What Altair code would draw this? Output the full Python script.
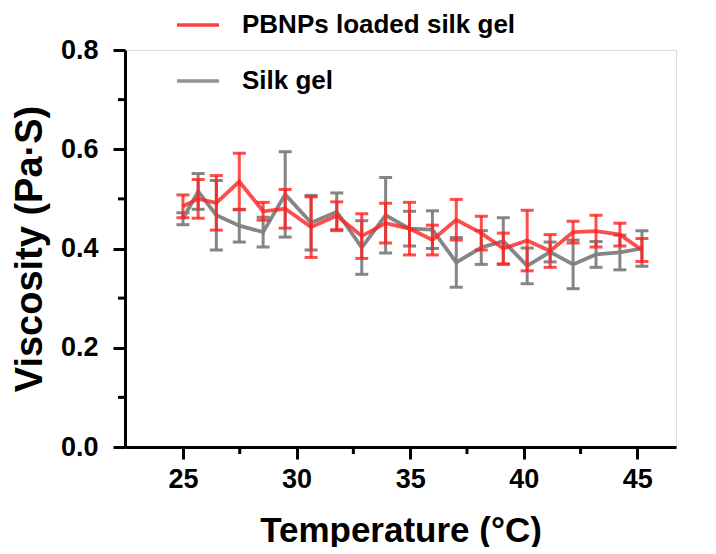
import altair as alt
import pandas as pd

# ---- data ----
temperature = [25.0, 25.67, 26.47, 27.48, 28.53, 29.50, 30.64, 31.77, 32.87, 33.92, 34.97,
               35.98, 37.03, 38.13, 39.10, 40.15, 41.16, 42.17, 43.18, 44.23, 45.20]
pbnp_mean = [0.485, 0.500, 0.492, 0.535, 0.475, 0.480, 0.443, 0.466, 0.425, 0.451, 0.440,
             0.417, 0.458, 0.431, 0.400, 0.416, 0.395, 0.433, 0.435, 0.428, 0.397]
pbnp_err = [0.023, 0.039, 0.055, 0.057, 0.018, 0.039, 0.061, 0.028, 0.045, 0.040, 0.053,
            0.030, 0.041, 0.034, 0.031, 0.061, 0.033, 0.022, 0.032, 0.023, 0.023]
silk_mean = [0.460, 0.515, 0.467, 0.446, 0.433, 0.509, 0.452, 0.474, 0.402, 0.467, 0.440,
             0.438, 0.372, 0.402, 0.415, 0.365, 0.393, 0.368, 0.388, 0.392, 0.400]
silk_err = [0.012, 0.036, 0.070, 0.033, 0.030, 0.086, 0.055, 0.038, 0.054, 0.076, 0.035,
            0.038, 0.050, 0.034, 0.047, 0.036, 0.020, 0.049, 0.026, 0.035, 0.036]

series_names = ["PBNPs loaded silk gel", "Silk gel"]
series_colors = ["#ff1f1f", "#7f7f7f"]

x_major = [25, 30, 35, 40, 45]
x_minor = [27.5, 32.5, 37.5, 42.5]
y_major = [0.0, 0.2, 0.4, 0.6, 0.8]
y_minor = [0.1, 0.3, 0.5, 0.7]

rows = []
for name, means, errs in [(series_names[1], silk_mean, silk_err),
                          (series_names[0], pbnp_mean, pbnp_err)]:
    for t, m, e in zip(temperature, means, errs):
        rows.append({"series": name, "T": t, "V": m, "lo": m - e, "hi": m + e})
df = pd.DataFrame(rows)

W, H = 551, 397
FONT = "Liberation Sans"

xscale = alt.Scale(domain=[22.45, 46.7], nice=False, zero=False)
yscale = alt.Scale(domain=[0, 0.8], nice=False)
cscale = alt.Scale(domain=series_names, range=series_colors)

x_axis = alt.Axis(values=x_major, title="Temperature (°C)", grid=False,
                  labelFontSize=27, labelFontWeight="bold", labelFont=FONT, labelColor="black",
                  labelPadding=7, tickSize=12, tickWidth=3, tickColor="black",
                  domainWidth=3, domainColor="black",
                  titleFontSize=35, titleFontWeight="bold", titleFont=FONT, titleColor="black",
                  titlePadding=21)
y_axis = alt.Axis(values=y_major, format=".1f", title="Viscosity (Pa·S)", grid=False,
                  labelFontSize=27, labelFontWeight="bold", labelFont=FONT, labelColor="black",
                  labelPadding=15, tickSize=12, tickWidth=3, tickColor="black",
                  domainWidth=3, domainColor="black",
                  titleFontSize=38, titleFontWeight="bold", titleFont=FONT, titleColor="black",
                  titlePadding=11)

legend = alt.Legend(title=None, orient="none", legendX=50, legendY=-48,
                    symbolType="stroke", symbolSize=1764, symbolStrokeWidth=3.5,
                    symbolOpacity=0.85,
                    labelFontSize=26, labelFontWeight="bold", labelFont=FONT, labelColor="black",
                    labelOffset=21, rowPadding=20, padding=0, labelLimit=400)
color = alt.Color("series:N", scale=cscale, legend=legend, sort=series_names)

base = alt.Chart(df)

layers = []
for name, op in [("Silk gel", 0.95), ("PBNPs loaded silk gel", 0.8)]:
    sub = base.transform_filter(alt.datum.series == name)
    rule = sub.mark_rule(strokeWidth=3, opacity=op).encode(
        x=alt.X("T:Q", scale=xscale, axis=x_axis),
        y=alt.Y("lo:Q", scale=yscale, axis=y_axis),
        y2="hi:Q",
        color=color,
    )
    cap_hi = sub.mark_tick(orient="horizontal", size=13, thickness=3, opacity=op).encode(
        x="T:Q", y="hi:Q", color=color)
    cap_lo = sub.mark_tick(orient="horizontal", size=13, thickness=3, opacity=op).encode(
        x="T:Q", y="lo:Q", color=color)
    line = sub.mark_line(strokeWidth=3.8, opacity=op).encode(
        x="T:Q", y="V:Q", color=color)
    layers += [rule, cap_hi, cap_lo, line]

xminor_df = pd.DataFrame({"T": x_minor})
yminor_df = pd.DataFrame({"V": y_minor})
xminor = alt.Chart(xminor_df).mark_rule(color="black", strokeWidth=3).encode(
    x=alt.X("T:Q", scale=xscale), y=alt.value(H), y2=alt.value(H + 7))
yminor = alt.Chart(yminor_df).mark_rule(color="black", strokeWidth=3).encode(
    y=alt.Y("V:Q", scale=yscale), x=alt.value(0), x2=alt.value(-7))

chart = alt.layer(*layers, xminor, yminor).properties(
    width=W, height=H,
    autosize=alt.AutoSizeParams(type="none"),
    padding={"left": 117, "top": 42, "right": 30, "bottom": 100},
).configure_view(stroke=None).configure(background="white")

chart.save("out.html", embed_options={"renderer": "svg", "actions": False})
